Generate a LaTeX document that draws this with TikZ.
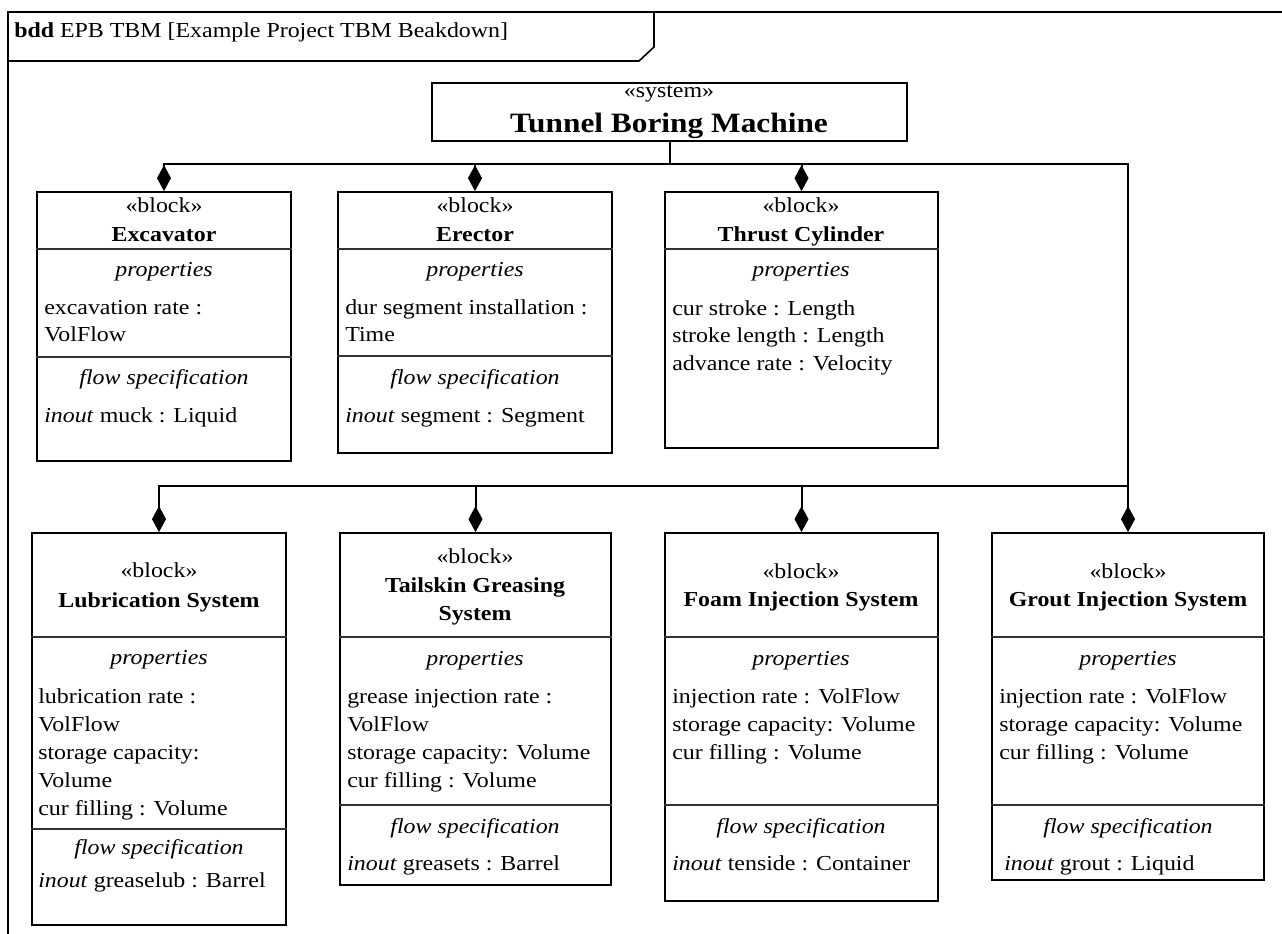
\documentclass[tikz,border=0pt]{standalone}
\usepackage{fontspec}
\setmainfont[FakeStretch=1.12]{Liberation Serif}
\usetikzlibrary{arrows.meta,fit}

\tikzset{
  block/.style={draw, line width=1.3pt, inner sep=0pt},
  sep/.style={line width=0.9pt, black!80},
  part/.style={line width=1.5pt, -{Diamond[length=19.5pt,width=10.5pt]}},
  stereo/.style={anchor=base, inner sep=0pt, font=\fontsize{16}{20}\selectfont},
  bname/.style={stereo, font=\fontsize{16}{20}\selectfont\bfseries},
  comp/.style={stereo, font=\fontsize{16}{20}\selectfont\itshape},
  attr/.style={anchor=base west, inner sep=0pt, font=\fontsize{16}{20}\selectfont},
}

\begin{document}
\begin{tikzpicture}[x=0.75pt, y=-0.75pt]
  \useasboundingbox (0,0) rectangle (1282,934);
  \fill[white] (0,0) rectangle (1282,934);
  \clip (0,0) rectangle (1282,934);

  % diagram frame with its name tab
  \draw[line width=1.2pt] (8,950) -- (8,12) -- (1300,12);
  \draw[line width=1.2pt] (8,61) -- (639,61) -- (654,47) -- (654,12);
  \node[attr] (title) at (14,38) {\textbf{bdd} EPB TBM [Example Project TBM Beakdown]};

  % system
  \node[block, fit={(432,83) (907,141)}] (tbm) {};
  \node[stereo] (tbm-st) at (669,98) {«system»};
  \node[bname, font=\fontsize{21}{24}\selectfont\bfseries] (tbm-nm) at (669,133) {Tunnel Boring Machine};

  % excavator
  \node[block, fit={(37,192) (291,461)}] (exc) {};
  \draw[sep] (exc.west |- 0,249) -- (exc.east |- 0,249);
  \draw[sep] (exc.west |- 0,357) -- (exc.east |- 0,357);
  \node[stereo] (exc-st) at (164,213) {«block»};
  \node[bname] (exc-nm) at (164,242) {Excavator};
  \node[comp] (exc-pr) at (164,277) {properties};
  \node[attr] (exc-a1) at (44,315) {excavation rate :};
  \node[attr] (exc-a2) at (44,342) {VolFlow};
  \node[comp] (exc-fs) at (164,384) {flow specification};
  \node[attr] (exc-f1) at (44,422) {\textit{inout} muck : Liquid};

  % erector
  \node[block, fit={(338,192) (612,453)}] (ere) {};
  \draw[sep] (ere.west |- 0,249) -- (ere.east |- 0,249);
  \draw[sep] (ere.west |- 0,356) -- (ere.east |- 0,356);
  \node[stereo] (ere-st) at (475,213) {«block»};
  \node[bname] (ere-nm) at (475,242) {Erector};
  \node[comp] (ere-pr) at (475,277) {properties};
  \node[attr] (ere-a1) at (345,315) {dur segment installation :};
  \node[attr] (ere-a2) at (345,342) {Time};
  \node[comp] (ere-fs) at (475,384) {flow specification};
  \node[attr] (ere-f1) at (345,422) {\textit{inout} segment : Segment};

  % thrust cylinder
  \node[block, fit={(665,192) (938,448)}] (thr) {};
  \draw[sep] (thr.west |- 0,249) -- (thr.east |- 0,249);
  \node[stereo] (thr-st) at (801,213) {«block»};
  \node[bname] (thr-nm) at (801,242) {Thrust Cylinder};
  \node[comp] (thr-pr) at (801,277) {properties};
  \foreach \t [count=\i] in {cur stroke : Length, stroke length : Length, advance rate : Velocity}
    \node[attr] (thr-a\i) at (672,{288+27.5*\i}) {\t};

  % lubrication system
  \node[block, fit={(32,533) (286,925)}] (lub) {};
  \draw[sep] (lub.west |- 0,637) -- (lub.east |- 0,637);
  \draw[sep] (lub.west |- 0,829) -- (lub.east |- 0,829);
  \node[stereo] (lub-st) at (159,577) {«block»};
  \node[bname] (lub-nm) at (159,607) {Lubrication System};
  \node[comp] (lub-pr) at (159,664) {properties};
  \foreach \t [count=\i] in {lubrication rate :, VolFlow, storage capacity:, Volume, cur filling : Volume}
    \node[attr] (lub-a\i) at (38,{675+28*\i}) {\t};
  \node[comp] (lub-fs) at (159,854) {flow specification};
  \node[attr] (lub-f1) at (38,887) {\textit{inout} greaselub : Barrel};

  % tailskin greasing system
  \node[block, fit={(340,533) (611,885)}] (tai) {};
  \draw[sep] (tai.west |- 0,637) -- (tai.east |- 0,637);
  \draw[sep] (tai.west |- 0,805) -- (tai.east |- 0,805);
  \node[stereo] (tai-st) at (475,563) {«block»};
  \node[bname] (tai-nm) at (475,592) {Tailskin Greasing};
  \node[bname] (tai-nm2) at (475,620) {System};
  \node[comp] (tai-pr) at (475,665) {properties};
  \foreach \t [count=\i] in {grease injection rate :, VolFlow, storage capacity: Volume, cur filling : Volume}
    \node[attr] (tai-a\i) at (347,{675+28*\i}) {\t};
  \node[comp] (tai-fs) at (475,833) {flow specification};
  \node[attr] (tai-f1) at (347,870) {\textit{inout} greasets : Barrel};

  % foam injection system
  \node[block, fit={(665,533) (938,901)}] (foa) {};
  \draw[sep] (foa.west |- 0,637) -- (foa.east |- 0,637);
  \draw[sep] (foa.west |- 0,805) -- (foa.east |- 0,805);
  \node[stereo] (foa-st) at (801,578) {«block»};
  \node[bname] (foa-nm) at (801,606) {Foam Injection System};
  \node[comp] (foa-pr) at (801,665) {properties};
  \foreach \t [count=\i] in {injection rate : VolFlow, storage capacity: Volume, cur filling : Volume}
    \node[attr] (foa-a\i) at (672,{675+28*\i}) {\t};
  \node[comp] (foa-fs) at (801,833) {flow specification};
  \node[attr] (foa-f1) at (672,870) {\textit{inout} tenside : Container};

  % grout injection system
  \node[block, fit={(992,533) (1264,880)}] (gro) {};
  \draw[sep] (gro.west |- 0,637) -- (gro.east |- 0,637);
  \draw[sep] (gro.west |- 0,805) -- (gro.east |- 0,805);
  \node[stereo] (gro-st) at (1128,578) {«block»};
  \node[bname] (gro-nm) at (1128,606) {Grout Injection System};
  \node[comp] (gro-pr) at (1128,665) {properties};
  \foreach \t [count=\i] in {injection rate : VolFlow, storage capacity: Volume, cur filling : Volume}
    \node[attr] (gro-a\i) at (999,{675+28*\i}) {\t};
  \node[comp] (gro-fs) at (1128,833) {flow specification};
  \node[attr] (gro-f1) at (1004,870) {\textit{inout} grout : Liquid};

  % composition
  \coordinate (hub) at (tbm.south |- 0,164);
  \coordinate (bus) at (gro.north |- 0,486);
  \draw[part] (tbm.south) -- (hub) -| (exc.north);
  \draw[part] (hub) -| (ere.north);
  \draw[part] (hub) -| (thr.north);
  \draw[part] (hub) -| (gro.north);
  \draw[part] (bus) -| (lub.north);
  \draw[part] (bus) -| (tai.north);
  \draw[part] (bus) -| (foa.north);
\end{tikzpicture}
\end{document}
